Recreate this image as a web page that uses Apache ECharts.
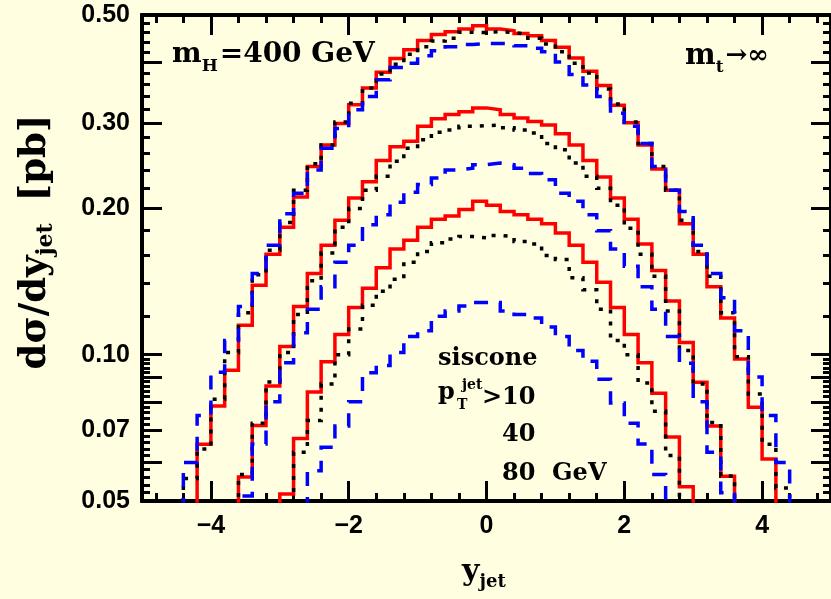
<!DOCTYPE html>
<html>
<head>
<meta charset="utf-8">
<script src="https://cdn.jsdelivr.net/npm/echarts@6/dist/echarts.min.js"></script>
<style>
  html, body { margin: 0; padding: 0; background: #fffee0; }
  #chart { width: 831px; height: 599px; }
</style>
</head>
<body>
<div id="chart"></div>
<script>
// Bin content that lies under the lower edge of the plot (0.05 pb)
const BELOW = 0.04;

// Bin edges in y_jet (bins of width 0.2)
const binEdges = [-4.6, -4.4, -4.2, -4.0, -3.8, -3.6, -3.4, -3.2, -3.0, -2.8, -2.6, -2.4,
  -2.2, -2.0, -1.8, -1.6, -1.4, -1.2, -1.0, -0.8, -0.6, -0.4, -0.2, 0,
  0.2, 0.4, 0.6, 0.8, 1.0, 1.2, 1.4, 1.6, 1.8, 2.0, 2.2, 2.4, 2.6, 2.8,
  3.0, 3.2, 3.4, 3.6, 3.8, 4.0, 4.2, 4.4, 4.6];

// dσ/dy_jet [pb], pT_jet > 10 GeV
const red10 = [BELOW, BELOW, 0.0654, 0.0784, 0.0929, 0.115, 0.139, 0.161, 0.183, 0.211, 0.244, 0.270,
  0.299, 0.327, 0.354, 0.381, 0.407, 0.424, 0.443, 0.456, 0.462, 0.468, 0.475, 0.468,
  0.464, 0.458, 0.453, 0.443, 0.429, 0.408, 0.383, 0.358, 0.326, 0.300, 0.270, 0.241,
  0.218, 0.186, 0.161, 0.138, 0.119, 0.098, 0.078, 0.061, BELOW, BELOW];
const black10 = [BELOW, 0.0556, 0.064, 0.081, 0.101, 0.122, 0.146, 0.164, 0.187, 0.218, 0.247, 0.270,
  0.301, 0.329, 0.354, 0.378, 0.396, 0.415, 0.430, 0.442, 0.448, 0.461, 0.460, 0.462,
  0.460, 0.456, 0.448, 0.436, 0.420, 0.398, 0.380, 0.352, 0.328, 0.301, 0.272, 0.244,
  0.218, 0.189, 0.163, 0.145, 0.122, 0.099, 0.083, 0.0654, 0.0532, BELOW];
const blue10 = [BELOW, 0.060, 0.075, 0.092, 0.107, 0.1256, 0.147, 0.168, 0.195, 0.215, 0.240, 0.266,
  0.292, 0.319, 0.340, 0.368, 0.390, 0.398, 0.412, 0.422, 0.430, 0.435, 0.437, 0.437,
  0.437, 0.432, 0.427, 0.420, 0.400, 0.377, 0.359, 0.340, 0.314, 0.295, 0.272, 0.244,
  0.218, 0.197, 0.168, 0.147, 0.131, 0.112, 0.090, 0.075, 0.060, BELOW];

// pT_jet > 40 GeV
const red40 = [BELOW, BELOW, BELOW, BELOW, BELOW, 0.056, 0.0715, 0.0862, 0.104, 0.1256, 0.147, 0.168,
  0.189, 0.210, 0.227, 0.251, 0.268, 0.275, 0.295, 0.306, 0.312, 0.316, 0.322, 0.319,
  0.312, 0.307, 0.302, 0.297, 0.285, 0.270, 0.251, 0.232, 0.210, 0.190, 0.169, 0.149,
  0.129, 0.106, 0.0878, 0.0713, 0.0562, BELOW, BELOW, BELOW, BELOW, BELOW];
const black40 = [BELOW, BELOW, BELOW, BELOW, BELOW, 0.0567, 0.0723, 0.0879, 0.101, 0.121, 0.142, 0.162,
  0.183, 0.200, 0.218, 0.233, 0.250, 0.266, 0.277, 0.287, 0.290, 0.295, 0.296, 0.297,
  0.293, 0.290, 0.286, 0.272, 0.264, 0.248, 0.233, 0.220, 0.203, 0.182, 0.161, 0.145,
  0.123, 0.102, 0.087, 0.0725, 0.0563, BELOW, BELOW, BELOW, BELOW, BELOW];
const blue40 = [BELOW, BELOW, BELOW, BELOW, BELOW, 0.0512, 0.0655, 0.080, 0.0963, 0.111, 0.124, 0.138,
  0.155, 0.168, 0.185, 0.194, 0.206, 0.216, 0.224, 0.231, 0.240, 0.242, 0.246, 0.248,
  0.246, 0.242, 0.236, 0.229, 0.215, 0.207, 0.194, 0.180, 0.165, 0.152, 0.138, 0.124,
  0.109, 0.096, 0.080, 0.063, 0.052, BELOW, BELOW, BELOW, BELOW, BELOW];

// pT_jet > 80 GeV
const red80 = [BELOW, BELOW, BELOW, BELOW, BELOW, BELOW, BELOW, BELOW, 0.0517, 0.0672, 0.0838, 0.0967,
  0.110, 0.125, 0.137, 0.151, 0.165, 0.172, 0.183, 0.190, 0.193, 0.199, 0.207, 0.203,
  0.197, 0.194, 0.190, 0.186, 0.178, 0.168, 0.155, 0.141, 0.125, 0.110, 0.0963, 0.0833,
  0.0677, 0.0535, BELOW, BELOW, BELOW, BELOW, BELOW, BELOW, BELOW, BELOW];
const black80 = [BELOW, BELOW, BELOW, BELOW, BELOW, BELOW, BELOW, BELOW, BELOW, 0.063, 0.0732, 0.0870,
  0.100, 0.113, 0.1264, 0.135, 0.143, 0.155, 0.163, 0.170, 0.173, 0.175, 0.174, 0.176,
  0.175, 0.171, 0.169, 0.160, 0.157, 0.144, 0.136, 0.124, 0.107, 0.100, 0.0875, 0.0765,
  0.062, BELOW, BELOW, BELOW, BELOW, BELOW, BELOW, BELOW, BELOW, BELOW];
const blue80 = [BELOW, BELOW, BELOW, BELOW, BELOW, BELOW, BELOW, BELOW, BELOW, BELOW, 0.0577, 0.0645,
  0.0713, 0.080, 0.0918, 0.095, 0.101, 0.109, 0.112, 0.120, 0.123, 0.126, 0.128, 0.128,
  0.123, 0.121, 0.119, 0.114, 0.109, 0.102, 0.097, 0.089, 0.0795, 0.0723, 0.0655, 0.0567,
  BELOW, BELOW, BELOW, BELOW, BELOW, BELOW, BELOW, BELOW, BELOW, BELOW];

// Axis ticks and labels
const xLabels = [-4, -2, 0, 2, 4];
const xTicksMinor = [-4.8, -4.4, -3.6, -3.2, -2.8, -2.4, -1.6, -1.2, -0.8, -0.4,
  0.4, 0.8, 1.2, 1.6, 2.4, 2.8, 3.2, 3.6, 4.4, 4.8];
const yLabels = [0.05, 0.07, 0.10, 0.20, 0.30, 0.50];
const yTicksMajor = [0.05, 0.06, 0.07, 0.08, 0.09, 0.10, 0.20, 0.30, 0.40, 0.50];
const yTicksMinor = [0.052, 0.054, 0.056, 0.058, 0.062, 0.064, 0.066, 0.068,
  0.072, 0.074, 0.076, 0.078, 0.082, 0.084, 0.086, 0.088, 0.092, 0.094, 0.096, 0.098,
  0.12, 0.14, 0.16, 0.18, 0.22, 0.24, 0.26, 0.28, 0.32, 0.34, 0.36, 0.38,
  0.42, 0.44, 0.46, 0.48];

const INK = '#000000';
const RED = '#ff0000';
const BLUE = '#0000ff';
const TICK_FONT = '"Liberation Sans", Arial, sans-serif';
const TEXT_FONT = '"DejaVu Serif", serif';

// Histogram outline: horizontal across each bin, vertical at each edge
function steps(vals) {
  const pts = [];
  vals.forEach((v, i) => {
    pts.push([binEdges[i], v], [binEdges[i + 1], v]);
  });
  return pts;
}

function histo(name, vals, color, dash, z) {
  return {
    name, type: 'line', data: steps(vals), xAxisIndex: 0, yAxisIndex: 0,
    showSymbol: false, symbol: 'none', clip: true, z,
    lineStyle: { color, width: 3.5, type: dash, cap: 'butt', join: 'miter' },
    emphasis: { disabled: true }
  };
}

function xAxisDef(position, ticks, len, withLabels) {
  return {
    type: 'value', min: -5, max: 5, position, gridIndex: 0,
    axisLine: { show: true, onZero: false, lineStyle: { color: INK, width: 4 } },
    axisTick: { show: true, inside: true, length: len, customValues: ticks,
      lineStyle: { color: INK, width: 3 } },
    axisLabel: withLabels ? {
      show: true, customValues: xLabels, margin: 13,
      fontFamily: TICK_FONT, fontWeight: 'bold', fontSize: 25, color: INK,
      formatter: v => (v < 0 ? '\u2212' + (-v) : String(v))
    } : { show: false },
    splitLine: { show: false }
  };
}

function yAxisDef(position, ticks, len, withLabels) {
  return {
    type: 'log', logBase: 10, min: 0.05, max: 0.5, position, gridIndex: 0,
    axisLine: { show: true, onZero: false, lineStyle: { color: INK, width: 4 } },
    axisTick: { show: true, inside: true, length: len, customValues: ticks,
      lineStyle: { color: INK, width: 3 } },
    axisLabel: withLabels ? {
      show: true, customValues: yLabels, margin: 12, padding: [6, 0, 0, 0],
      fontFamily: TICK_FONT, fontWeight: 'bold', fontSize: 25, color: INK,
      formatter: v => v.toFixed(2)
    } : { show: false },
    splitLine: { show: false },
    minorTick: { show: false }
  };
}

// Lay out text runs (sub/superscripts) one after another
const measureCtx = document.createElement('canvas').getContext('2d');
function runs(parts) {
  let x = 0;
  const children = [];
  parts.forEach(p => {
    measureCtx.font = `bold ${p.size}px ${TEXT_FONT}`;
    children.push({
      type: 'text', x: x + (p.dx || 0), y: p.dy || 0, silent: true,
      style: { text: p.t, fontFamily: TEXT_FONT, fontWeight: 'bold', fontSize: p.size,
        fill: INK, align: 'left', verticalAlign: 'middle' }
    });
    x += measureCtx.measureText(p.t).width + (p.dx || 0);
  });
  return { children, width: x };
}
function textGroup(x, y, parts, opts) {
  const r = runs(parts);
  const o = opts || {};
  if (o.center) r.children.forEach(c => { c.x -= r.width / 2; });
  return { type: 'group', x, y, rotation: o.rotation || 0, children: r.children, silent: true };
}
function label(x, y, t, size) {
  return { type: 'text', x, y, silent: true,
    style: { text: t, fontFamily: TEXT_FONT, fontWeight: 'bold', fontSize: size,
      fill: INK, align: 'left', verticalAlign: 'middle' } };
}

const chart = echarts.init(document.getElementById('chart'), null, { renderer: 'canvas' });
chart.setOption({
  animation: false,
  backgroundColor: '#fffee0',
  grid: { left: 142, top: 15, width: 693, height: 486, containLabel: false },
  xAxis: [
    xAxisDef('bottom', xLabels, 20, true),
    xAxisDef('bottom', xTicksMinor, 8, false),
    xAxisDef('top', xLabels, 20, false),
    xAxisDef('top', xTicksMinor, 8, false)
  ],
  yAxis: [
    yAxisDef('left', yTicksMajor, 20, true),
    yAxisDef('left', yTicksMinor, 8, false),
    yAxisDef('right', yTicksMajor, 20, false),
    yAxisDef('right', yTicksMinor, 8, false)
  ],
  series: [
    histo('pT>10 red', red10, RED, 'solid', 2),
    histo('pT>40 red', red40, RED, 'solid', 2),
    histo('pT>80 red', red80, RED, 'solid', 2),
    histo('pT>10 black', black10, INK, [4, 8], 3),
    histo('pT>40 black', black40, INK, [4, 8], 3),
    histo('pT>80 black', black80, INK, [4, 8], 3),
    histo('pT>10 blue', blue10, BLUE, [14, 11], 4),
    histo('pT>40 blue', blue40, BLUE, [14, 11], 4),
    histo('pT>80 blue', blue80, BLUE, [14, 11], 4)
  ],
  graphic: [
    textGroup(172, 55, [
      { t: 'm', size: 28 }, { t: 'H', size: 17, dy: 12 }, { t: '=400 GeV', size: 28, dx: 2 }
    ]),
    textGroup(685, 56, [
      { t: 'm', size: 29 }, { t: 't', size: 17, dy: 12 }, { t: '\u2192\u221e', size: 26, dx: 2 }
    ]),
    label(438, 359, 'siscone', 24),
    label(438, 393, 'p', 24),
    label(462, 385, 'jet', 14),
    label(457, 405, 'T', 14),
    label(482, 398, '>10', 24),
    label(502, 435, '40', 24),
    label(502, 474, '80  GeV', 24),
    textGroup(462, 572, [
      { t: 'y', size: 30 }, { t: 'jet', size: 18, dy: 10 }
    ]),
    textGroup(35, 242, [
      { t: 'd\u03c3/dy', size: 37 }, { t: 'jet', size: 22, dy: 11 }, { t: '[pb]', size: 37, dx: 22 }
    ], { rotation: Math.PI / 2, center: true })
  ]
});
</script>
</body>
</html>
